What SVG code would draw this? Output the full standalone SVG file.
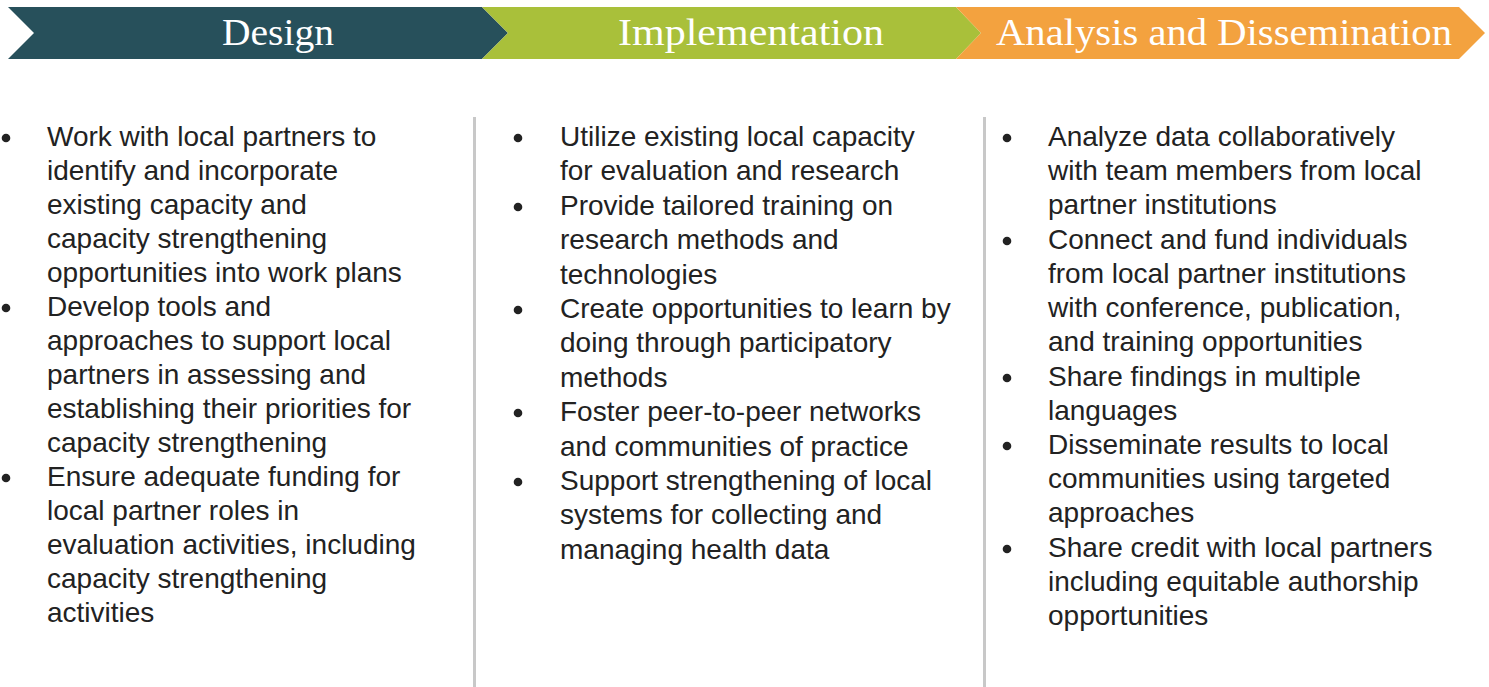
<svg xmlns="http://www.w3.org/2000/svg" width="1489" height="687" viewBox="0 0 1489 687">
<style>
.hdr{font-family:"Liberation Serif","Times New Roman",serif;font-size:37px;fill:#ffffff;text-anchor:middle}
.txt{font-family:"Liberation Sans",Arial,sans-serif;font-size:28px;fill:#222222}
.bul{fill:#222222}
.div{stroke:#c8c8c8;stroke-width:3}
</style>
<rect width="1489" height="687" fill="#ffffff"/>
<g id="stage-design">
<polygon points="8,7 482,7 508,33 482,59 8,59 34,33" fill="#27505b"/>
<text class="hdr" x="278" y="45" textLength="112" lengthAdjust="spacingAndGlyphs">Design</text>
</g>
<g id="stage-implementation">
<polygon points="482,7 956,7 981,33 956,59 482,59 508,33" fill="#a9c03a"/>
<text class="hdr" x="751" y="45" textLength="266" lengthAdjust="spacingAndGlyphs">Implementation</text>
</g>
<g id="stage-analysis">
<polygon points="956,7 1459,7 1485,33 1459,59 956,59 981,33" fill="#f3a23f"/>
<text class="hdr" x="1224" y="45" textLength="456" lengthAdjust="spacingAndGlyphs">Analysis and Dissemination</text>
</g>
<g id="connectors">
<line class="div" x1="474.5" y1="117" x2="474.5" y2="687"/>
<line class="div" x1="984.5" y1="117" x2="984.5" y2="687"/>
</g>
<g id="list-design">
<circle class="bul" cx="6" cy="138" r="4.3"/>
<circle class="bul" cx="6" cy="308" r="4.3"/>
<circle class="bul" cx="6" cy="478" r="4.3"/>
<text class="txt">
<tspan x="47" y="146">Work with local partners to</tspan>
<tspan x="47" y="180">identify and incorporate</tspan>
<tspan x="47" y="214">existing capacity and</tspan>
<tspan x="47" y="248">capacity strengthening</tspan>
<tspan x="47" y="282">opportunities into work plans</tspan>
<tspan x="47" y="316">Develop tools and</tspan>
<tspan x="47" y="350">approaches to support local</tspan>
<tspan x="47" y="384">partners in assessing and</tspan>
<tspan x="47" y="418">establishing their priorities for</tspan>
<tspan x="47" y="452">capacity strengthening</tspan>
<tspan x="47" y="486">Ensure adequate funding for</tspan>
<tspan x="47" y="520">local partner roles in</tspan>
<tspan x="47" y="554">evaluation activities, including</tspan>
<tspan x="47" y="588">capacity strengthening</tspan>
<tspan x="47" y="622">activities</tspan>
</text>
</g>
<g id="list-implementation">
<circle class="bul" cx="518" cy="138" r="4.3"/>
<circle class="bul" cx="518" cy="207" r="4.3"/>
<circle class="bul" cx="518" cy="310" r="4.3"/>
<circle class="bul" cx="518" cy="413" r="4.3"/>
<circle class="bul" cx="518" cy="482" r="4.3"/>
<text class="txt">
<tspan x="560" y="146">Utilize existing local capacity</tspan>
<tspan x="560" y="180">for evaluation and research</tspan>
<tspan x="560" y="215">Provide tailored training on</tspan>
<tspan x="560" y="249">research methods and</tspan>
<tspan x="560" y="284">technologies</tspan>
<tspan x="560" y="318">Create opportunities to learn by</tspan>
<tspan x="560" y="352">doing through participatory</tspan>
<tspan x="560" y="387">methods</tspan>
<tspan x="560" y="421">Foster peer-to-peer networks</tspan>
<tspan x="560" y="456">and communities of practice</tspan>
<tspan x="560" y="490">Support strengthening of local</tspan>
<tspan x="560" y="524">systems for collecting and</tspan>
<tspan x="560" y="559">managing health data</tspan>
</text>
</g>
<g id="list-analysis">
<circle class="bul" cx="1007" cy="138" r="4.3"/>
<circle class="bul" cx="1007" cy="241" r="4.3"/>
<circle class="bul" cx="1007" cy="378" r="4.3"/>
<circle class="bul" cx="1007" cy="446" r="4.3"/>
<circle class="bul" cx="1007" cy="549" r="4.3"/>
<text class="txt">
<tspan x="1048" y="146">Analyze data collaboratively</tspan>
<tspan x="1048" y="180">with team members from local</tspan>
<tspan x="1048" y="214">partner institutions</tspan>
<tspan x="1048" y="249">Connect and fund individuals</tspan>
<tspan x="1048" y="283">from local partner institutions</tspan>
<tspan x="1048" y="317">with conference, publication,</tspan>
<tspan x="1048" y="351">and training opportunities</tspan>
<tspan x="1048" y="386">Share findings in multiple</tspan>
<tspan x="1048" y="420">languages</tspan>
<tspan x="1048" y="454">Disseminate results to local</tspan>
<tspan x="1048" y="488">communities using targeted</tspan>
<tspan x="1048" y="522">approaches</tspan>
<tspan x="1048" y="557">Share credit with local partners</tspan>
<tspan x="1048" y="591">including equitable authorship</tspan>
<tspan x="1048" y="625">opportunities</tspan>
</text>
</g>
</svg>
